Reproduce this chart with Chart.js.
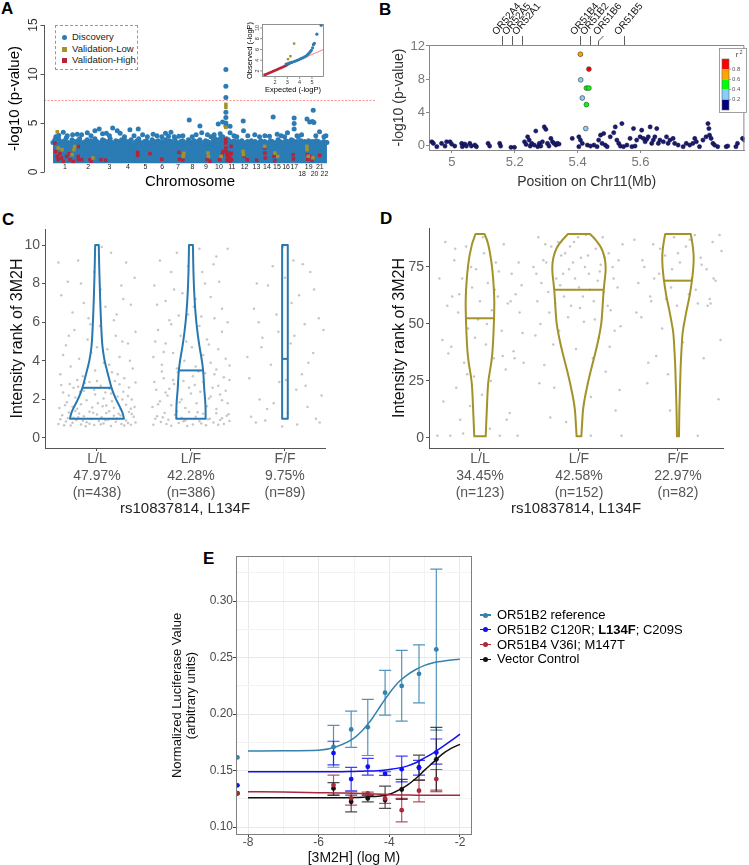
<!DOCTYPE html>
<html><head><meta charset="utf-8">
<script src="https://cdn.jsdelivr.net/npm/chart.js@4.4.1/dist/chart.umd.min.js"></script>
<style>
html,body{margin:0;padding:0;background:#fff}
body{position:relative;width:749px;height:865px;overflow:hidden;font-family:"Liberation Sans",Arial,Helvetica,sans-serif}
canvas{position:absolute}
.plab{position:absolute;font-weight:bold;font-size:17px;line-height:17px;color:#000}
#legA{position:absolute;left:55px;top:25px;width:83px;height:45px;border:1px dashed #999;box-sizing:border-box;font-size:9.5px;color:#222;background:#fff}
#legA div{position:absolute;left:16px;height:12px;line-height:12px;white-space:nowrap}
#legA span{position:absolute;left:-10px;top:3.5px;width:5px;height:5px}
#legE{position:absolute;left:480px;top:608px;font-size:13px;line-height:14.8px;color:#000;white-space:nowrap}
#legE .mk{display:inline-block;position:relative;width:11px;height:10px;margin-right:6px;vertical-align:-1px}
#legE .mk i{position:absolute;left:0;top:4.4px;width:11px;height:1.3px}
#legE .mk b{position:absolute;left:3px;top:2.5px;width:5px;height:5px;border-radius:50%}
</style></head>
<body>
<div class="plab" style="left:1px;top:0px">A</div>
<div class="plab" style="left:379px;top:1px">B</div>
<div class="plab" style="left:2px;top:211px">C</div>
<div class="plab" style="left:380px;top:210px">D</div>
<div class="plab" style="left:203px;top:550px">E</div>

<canvas id="cA" width="375" height="195" style="left:0;top:0"></canvas>
<canvas id="cQ" width="90" height="76" style="left:240px;top:18px"></canvas>
<div id="legA">
  <div style="top:5px"><span style="background:#2b7bb4;border-radius:50%"></span>Discovery</div>
  <div style="top:17px"><span style="background:#a39227"></span>Validation-Low</div>
  <div style="top:28px"><span style="background:#b5253a"></span>Validation-High</div>
</div>
<canvas id="cB" width="374" height="195" style="left:375px;top:0"></canvas>
<canvas id="cC" width="375" height="320" style="left:0;top:200px"></canvas>
<canvas id="cD" width="374" height="320" style="left:375px;top:200px"></canvas>
<canvas id="cE" width="589" height="325" style="left:160px;top:540px"></canvas>
<div id="legE">
  <div><span class="mk"><i style="background:#3482ae"></i><b style="background:#3482ae"></b></span>OR51B2 reference</div>
  <div><span class="mk"><i style="background:#1010f5"></i><b style="background:#1010f5"></b></span>OR51B2 C120R; <b>L134F</b>; C209S</div>
  <div><span class="mk"><i style="background:#a8283c"></i><b style="background:#a8283c"></b></span>OR51B4 V36I; M147T</div>
  <div><span class="mk"><i style="background:#111"></i><b style="background:#111"></b></span>Vector Control</div>
</div>

<script>
// ================= DATA =================
// ---- Panel A: Manhattan ----
const chrNames = ['1','2','3','4','5','6','7','8','9','10','11','12','13','14','15','16','17','18','19','20','21','22'];
const chrLen = [249,243,198,190,181,171,159,145,138,134,135,133,114,107,102,90,83,80,59,64,47,51];
const chrLowRow = ['18','20','22'];
const mhBandStep = 20;
const mhBandTop = [
3.0,3.3,2.9,3.4,3.1,2.8,3.2,3.5,3.0,2.9,3.3,3.1,
2.9,3.2,3.4,3.0,2.8,3.1,3.3,2.9,3.2,3.0,3.4,3.1,
2.8,3.0,3.3,3.2,2.9,3.1,3.4,3.0,2.8,3.2,3.1,2.9,
3.3,3.0,3.2,2.9,3.1,3.3,2.8,3.0,3.2,3.4,3.0,2.9,
3.1,3.2,2.9,3.0,3.3,3.1,2.8,3.2,3.0,3.1,2.9,3.3,
3.0,3.2,3.1,2.9,3.4,3.0,2.8,3.1,3.2,3.0,2.9,3.3,
3.1,3.0,3.2,2.9,3.1,3.3,3.0,2.8,3.2,3.1,3.0,2.9,
3.2,3.4,3.1,3.3,3.5,3.6,3.2,3.4,3.3,3.1,3.0,3.2,
2.9,3.1,3.0,3.2,2.8,3.0,3.1,2.9,3.2,3.0,3.1,2.9,
3.0,3.2,2.9,3.1,3.0,2.8,3.2,3.1,2.9,3.0,3.3,3.1,
3.0,2.9,3.2,3.1,3.0,3.3,3.2,3.0,3.1,2.9,3.2,3.0,
3.1,3.0,3.2,2.9,3.1,3.0,3.2,3.1,3.0,2.9,3.1,3.0,3.0];
const mhBandBase = 0.9;
// [chromosome, position (Mb), -log10 p]
const mhDiscovery = [[1,108,4.05],[1,206,3.8],[1,150,3.7],[1,30,3.6],[1,60,3.75],[2,6,3.85],[2,51,3.8],[2,111,4.0],[2,191,4.2],[2,236,4.4],[2,150,3.7],[3,28,3.9],[3,68,3.95],[3,134,4.5],[3,182,4.2],[3,100,3.7],[4,15,3.95],[4,117,4.3],[4,60,3.6],[4,160,3.7],[5,14,4.4],[5,60,3.8],[5,170,3.85],[5,110,3.6],[6,30,3.7],[6,119,3.95],[6,80,3.6],[6,150,3.65],[7,5,4.05],[7,88,3.65],[7,40,3.6],[7,130,3.7],[8,38,5.3],[8,69,3.6],[8,110,3.8],[9,5,4.7],[9,24,4.0],[9,84,3.8],[9,120,3.6],[10,16,3.8],[10,59,4.9],[10,105,5.1],[10,80,3.9],[11,5.3,10.45],[11,5.3,8.75],[11,5.3,7.6],[11,5.3,6.1],[11,5.3,5.55],[11,5.3,5.0],[11,5.3,4.7],[11,49,4.66],[11,49,4.0],[11,90,3.7],[11,120,3.6],[12,52,5.2],[12,55,4.2],[12,100,3.7],[13,40,3.8],[13,90,3.6],[14,32,3.7],[14,80,3.65],[15,12,5.6],[15,54,3.85],[15,95,3.7],[16,60,4.0],[16,30,3.6],[17,40,5.5],[17,40,4.95],[17,40,4.4],[17,70,3.7],[18,0,3.6],[18,35,3.8],[19,12,5.4],[19,40,5.1],[20,10,5.15],[20,18,6.3],[20,25,5.05],[20,45,3.7],[21,20,4.1],[22,20,3.6],[22,40,3.7]];
const mhValLow = [[1,45,4.1],[1,55,2.45],[1,95,2.28],[1,200,1.77],[1,220,2.28],[1,228,2.6],[2,170,1.43],[7,134,1.6],[7,140,1.9],[9,90,1.94],[9,95,1.6],[10,90,1.6],[11,5.3,6.9],[11,5.3,6.6],[11,5.3,4.55],[12,50,2.1],[12,55,1.77],[14,30,2.62],[15,30,1.94],[15,60,1.6],[19,10,2.62],[19,12,2.28],[19,25,1.6],[20,15,1.45]];
const mhValHigh = [[1,20,2.96],[1,25,2.1],[1,45,1.6],[1,55,1.26],[1,73,1.87],[1,90,1.43],[1,108,1.09],[1,143,1.6],[1,170,1.87],[1,178,1.26],[1,213,1.09],[2,16,2.6],[2,16,1.6],[2,18,1.26],[2,50,1.26],[2,140,1.26],[2,150,1.1],[3,10,1.26],[3,60,1.2],[5,8,2.0],[5,8,1.7],[5,137,1.87],[6,80,1.3],[7,89,2.0],[7,95,1.3],[7,130,1.2],[9,80,1.26],[9,110,1.1],[10,75,1.26],[10,100,1.77],[10,110,2.1],[11,3,3.3],[11,4,2.96],[11,5,2.45],[11,8,2.1],[11,15,1.77],[11,25,1.43],[11,35,1.94],[11,45,1.6],[11,60,2.62],[11,62,1.9],[11,63,1.26],[11,20,1.2],[11,50,1.1],[12,60,1.6],[12,95,1.26],[13,60,1.2],[14,30,2.45],[14,32,1.94],[14,35,1.43],[15,20,1.6],[15,28,1.15],[17,30,1.77],[17,32,1.33],[19,15,1.77],[19,20,1.3],[19,40,1.6],[20,5,1.2],[21,20,1.7]];
const gwSignif = 7.3;
const mhYTicks = [0,5,10,15];
// QQ inset [expected, observed]
const qqHigh = [[1.15,1.3],[1.25,1.35],[1.35,1.45],[1.45,1.55],[1.55,1.65],[1.65,1.75],[1.75,1.85],[1.85,1.95],[1.95,2.05],[2.05,2.15],[2.15,2.25],[2.25,2.35],[2.35,2.45],[2.45,2.55],[2.55,2.65],[2.65,2.75],[2.75,2.85],[2.85,2.95],[2.95,3.1],[3.05,3.25],[3.15,3.4]];
const qqDisc = [[2.9,3.3],[3.05,3.38],[3.2,3.5],[3.35,3.6],[3.5,3.72],[3.65,3.85],[3.8,3.98],[3.95,4.12],[4.1,4.28],[4.25,4.45],[4.4,4.62],[4.55,4.82],[4.65,5.05],[4.75,5.3],[4.85,5.55],[4.95,5.85],[5.05,6.3],[5.12,6.9],[5.2,7.15],[5.4,8.85],[5.75,10.5]];
const qqLow = [[3.05,4.2],[3.25,4.75],[3.55,7.1]];
const qqNull = [[1.1,1.2],[5.95,6.0]];
const qqXTicks = [2,3,4,5];
const qqYTicks = [2,4,6,8,10];

// ---- Panel B: regional plot ----
const bNavy = [[4.936,0.4],[4.941,0.2],[4.952,-0.2],[4.967,0.2],[4.978,-0.12],[4.983,0.4],[4.994,0.4],[4.999,0.12],[5.009,-0.12],[5.031,0.2],[5.033,-0.2],[5.041,0.12],[5.046,-0.12],[5.057,0.2],[5.062,-0.12],[5.073,0],[5.078,-0.2],[5.115,0.2],[5.12,-0.12],[5.152,0.2],[5.155,-0.12],[5.188,-0.28],[5.199,-0.28],[5.231,0.4],[5.236,0.08],[5.241,1.0],[5.246,0.6],[5.249,-0.12],[5.254,0.2],[5.262,0],[5.267,1.7],[5.273,-0.2],[5.278,0.2],[5.283,-0.12],[5.288,0.4],[5.294,2.2],[5.299,1.9],[5.304,0.2],[5.309,-0.12],[5.315,0.8],[5.32,0.4],[5.325,0.2],[5.331,0],[5.336,0.2],[5.341,0.12],[5.383,0.8],[5.404,1.0],[5.409,0.6],[5.404,-0.2],[5.415,0.2],[5.431,0],[5.441,-0.12],[5.452,0],[5.462,-0.2],[5.467,0.6],[5.473,1.2],[5.478,0.2],[5.483,1.4],[5.488,0],[5.494,-0.2],[5.504,1.0],[5.515,1.5],[5.52,2.2],[5.525,0.6],[5.531,0.2],[5.536,-0.12],[5.541,2.6],[5.546,-0.2],[5.557,0],[5.567,0.8],[5.573,-0.2],[5.578,2.0],[5.583,-0.12],[5.588,0.6],[5.599,1.0],[5.604,1.8],[5.609,0.8],[5.615,0.4],[5.62,0.7],[5.625,1.0],[5.631,2.2],[5.636,0.2],[5.641,0.6],[5.646,1.0],[5.652,2.0],[5.657,0.2],[5.662,0.6],[5.673,0.4],[5.683,1.0],[5.688,0.2],[5.694,0.6],[5.704,0.8],[5.709,0.2],[5.72,0],[5.736,-0.2],[5.746,0.2],[5.757,0],[5.767,0.2],[5.773,0.8],[5.778,0.4],[5.788,-0.2],[5.799,0.6],[5.809,1.0],[5.815,2.6],[5.818,2.0],[5.82,1.2],[5.825,0.8],[5.831,0.2],[5.836,0],[5.846,-0.2],[5.873,-0.2],[5.878,-0.12],[5.904,-0.2],[5.909,0.2],[5.925,0.8],[5.931,0.6]];
const bLD = [[5.409,11.0],[5.436,9.2],[5.41,7.9],[5.428,6.9],[5.436,6.9],[5.415,5.7],[5.428,4.9],[5.426,2.0]];
const bLDr2 = [0.7,0.9,0.3,0.5,0.5,0.3,0.5,0.3];
const r2Colors = ['#00007f','#87cefa','#00ff00','#ffa500','#ff0000'];
const r2Ticks = ['0.2','0.4','0.6','0.8'];
const geneNames = ['OR52A4','OR52A5','OR52A1','OR51B4','OR51B2','OR51B6','OR51B5'];
const genePos = [5.16,5.19,5.223,5.409,5.439,5.464,5.548];
const bXTicks = [5,5.2,5.4,5.6];
const bYTicks = [0,2,4,6,8,10,12];

// ---- Panels C & D: violins ----
const genotypes = ['L/L','L/F','F/F'];
const cPct = ['47.97%','42.28%','9.75%'];
const cN = ['(n=438)','(n=386)','(n=89)'];
const dPct = ['34.45%','42.58%','22.97%'];
const dN = ['(n=123)','(n=152)','(n=82)'];
const cYTicks = [0,2,4,6,8,10];
const dYTicks = [0,25,50,75];
const cMedian = [2.6,3.5,4.1];
const dMedian = [52.5,65,69];
// violin half-widths [value, half-width in category units]
const cViolinLL = [[1,.287],[1.25,.277],[1.5,.255],[1.75,.229],[2,.202],[2.3,.176],[2.6,.154],[3,.133],[3.5,.106],[4,.080],[4.5,.064],[5,.053],[6,.043],[7,.035],[8,.029],[9,.023],[10,.019]];
const cViolinLF = [[1,.156],[1.5,.156],[2,.151],[2.5,.141],[3,.136],[3.5,.130],[4,.117],[4.5,.099],[5,.082],[6,.056],[7,.040],[8,.030],[9,.024],[10,.021]];
const cViolinFF = [[1,.030],[5,.030],[10,.030]];
const dViolinLL = [[0.7,.058],[6.6,.063],[13.9,.071],[24.9,.081],[32.9,.116],[40.2,.131],[52.5,.143],[62.1,.146],[75.3,.124],[85.5,.084],[89.5,.045]];
const dViolinLF = [[0.7,.024],[6.6,.032],[13.9,.042],[24.9,.093],[32.9,.139],[40.2,.182],[47.5,.217],[52.5,.232],[65.6,.249],[75.3,.278],[82.6,.240],[87,.169],[89.5,.111]];
const dViolinFF = [[0.7,.010],[6.6,.012],[13.9,.015],[24.9,.023],[32.9,.028],[40.2,.038],[46,.045],[50.4,.063],[56.3,.088],[62.1,.118],[69.4,.143],[75.3,.157],[80.4,.160],[85.5,.146],[89.5,.129]];
// jittered individual observations [offset from category, value]
const cPtsLL = [[-0.41,0.72],[-0.37,1.18],[-0.33,0.85],[-0.30,1.32],[-0.28,0.64],[-0.25,1.05],[-0.22,0.93],[-0.19,1.27],[-0.17,0.70],[-0.14,1.12],[-0.11,0.81],[-0.08,1.36],[-0.06,0.98],[-0.03,0.67],[0.00,1.22],[0.02,0.88],[0.05,1.08],[0.07,0.75],[0.10,1.30],[0.12,0.95],[0.15,0.62],[0.18,1.15],[0.20,0.84],[0.23,1.25],[0.26,0.73],[0.28,1.02],[0.31,0.90],[0.34,1.34],[0.36,0.68],[0.39,1.10],[0.41,0.80],[-0.39,0.97],[-0.35,0.66],[-0.26,0.79],[-0.20,1.08],[-0.12,0.61],[-0.04,1.31],[0.04,0.71],[0.13,1.38],[0.21,1.01],[0.29,0.65],[0.37,1.24],[-0.31,1.02],[-0.15,0.89],[0.09,0.92],[0.25,1.16],[0.33,0.77],[-0.08,0.74],[0.17,0.99],[-0.23,1.40],
[-0.40,1.55],[-0.36,2.35],[-0.32,1.85],[-0.29,2.80],[-0.26,1.62],[-0.23,2.10],[-0.20,2.65],[-0.17,1.75],[-0.14,2.45],[-0.11,1.95],[-0.08,2.90],[-0.05,1.58],[-0.02,2.25],[0.01,1.80],[0.04,2.70],[0.07,2.05],[0.10,1.68],[0.13,2.55],[0.16,1.90],[0.19,2.95],[0.22,2.15],[0.25,1.50],[0.28,2.40],[0.31,1.72],[0.34,2.62],[0.37,2.00],[0.40,1.60],[-0.38,2.75],[-0.30,2.20],[-0.21,1.52],[-0.13,2.85],[-0.03,2.50],[0.06,1.65],[0.15,2.30],[0.24,2.78],[0.33,2.18],[0.41,2.88],[-0.34,1.70],[-0.18,2.40],[0.00,2.95],[0.18,1.56],[0.27,2.00],[-0.25,2.60],[0.09,2.35],[0.36,1.52],
[-0.39,3.3],[-0.33,4.8],[-0.28,3.7],[-0.24,5.6],[-0.19,4.1],[-0.15,3.2],[-0.10,5.1],[-0.06,4.4],[-0.02,3.5],[0.03,5.8],[0.07,3.9],[0.11,4.6],[0.16,3.4],[0.20,5.3],[0.24,4.2],[0.29,3.1],[0.33,4.9],[0.38,3.6],[0.41,5.5],[-0.36,4.3],[-0.21,3.0],[-0.07,5.9],[0.13,3.8],[0.27,5.0],[0.35,4.0],[-0.30,5.3],[0.00,4.7],[0.22,3.3],
[-0.38,7.4],[-0.31,8.1],[-0.26,6.5],[-0.20,9.2],[-0.14,7.0],[-0.09,6.2],[-0.03,8.6],[0.04,7.7],[0.09,6.8],[0.15,9.6],[0.21,6.4],[0.26,7.9],[0.31,9.1],[0.36,6.9],[0.40,8.3],[-0.41,9.1],[0.28,7.2],[0.18,6.1],[-0.17,8.0],[0.05,9.9]];
const cPtsLF = [[-0.40,0.68],[-0.36,1.12],[-0.32,0.83],[-0.28,1.30],[-0.24,0.95],[-0.21,0.63],[-0.17,1.20],[-0.13,0.77],[-0.10,1.05],[-0.06,0.90],[-0.02,1.35],[0.02,0.70],[0.05,1.10],[0.09,0.86],[0.13,1.25],[0.16,0.66],[0.20,1.00],[0.24,0.80],[0.27,1.28],[0.31,0.93],[0.35,0.72],[0.38,1.15],[0.41,0.88],[-0.38,0.99],[-0.26,0.73],[-0.15,1.38],[-0.04,0.62],[0.07,1.33],[0.18,0.97],[0.29,0.69],[0.40,1.23],[-0.30,1.08],[0.11,0.75],[0.33,1.02],[-0.08,0.87],
[-0.41,1.6],[-0.37,2.5],[-0.33,1.9],[-0.29,3.1],[-0.25,2.2],[-0.21,1.7],[-0.18,2.8],[-0.14,3.4],[-0.10,2.0],[-0.06,1.55],[-0.02,2.6],[0.02,3.2],[0.06,1.8],[0.10,2.4],[0.13,2.9],[0.17,1.65],[0.21,2.15],[0.25,3.3],[0.29,2.7],[0.33,1.95],[0.37,2.45],[0.41,3.0],[-0.39,2.9],[-0.31,3.45],[-0.23,2.55],[-0.12,1.85],[0.00,2.3],[0.08,3.45],[0.19,2.05],[0.27,1.5],[0.35,3.15],[-0.35,1.75],[-0.19,3.0],[0.04,2.75],[0.15,3.35],[0.31,2.25],[-0.08,2.95],[0.23,2.6],[0.39,1.8],[-0.27,2.35],
[-0.40,4.2],[-0.35,5.6],[-0.31,3.8],[-0.27,4.9],[-0.23,6.1],[-0.19,4.4],[-0.15,3.6],[-0.11,5.3],[-0.07,4.0],[-0.03,6.4],[0.01,4.7],[0.05,3.7],[0.09,5.8],[0.13,4.3],[0.17,5.1],[0.21,3.9],[0.25,6.2],[0.29,4.6],[0.33,5.5],[0.37,4.1],[0.41,3.75],[-0.38,5.0],[-0.21,5.9],[-0.05,5.0],[0.11,6.3],[0.27,3.55],[0.39,6.0],[-0.29,4.45],[0.19,4.85],[-0.13,6.35],
[-0.39,7.9],[-0.33,9.2],[-0.27,7.1],[-0.21,8.6],[-0.15,9.6],[-0.09,7.5],[-0.03,8.9],[0.03,6.8],[0.09,9.8],[0.15,8.0],[0.21,7.3],[0.27,9.4],[0.33,6.7],[0.39,9.8],[-0.36,6.9],[0.12,8.6],[0.30,8.1],[-0.18,7.7],[0.05,7.2],[0.24,9.0]];
const cPtsFF = [[-0.40,4.2],[-0.36,1.1],[-0.33,6.7],[-0.30,8.0],[-0.27,2.0],[-0.24,5.2],[-0.21,0.9],[-0.18,7.9],[-0.15,3.8],[-0.12,1.8],[-0.09,6.4],[-0.06,2.9],[-0.03,0.6],[0.00,8.3],[0.03,1.3],[0.06,4.9],[0.09,9.2],[0.12,2.5],[0.15,7.4],[0.18,3.3],[0.21,5.9],[0.24,1.6],[0.27,8.6],[0.30,4.4],[0.33,1.0],[0.36,6.2],[0.39,2.2],[0.41,5.6],[-0.38,3.1],[-0.31,0.8],[-0.25,4.7],[-0.19,1.5],[-0.13,8.9],[-0.07,5.5],[0.01,3.0],[0.07,7.0],[0.13,0.7],[0.19,9.0],[0.25,3.9],[0.31,7.7],[0.37,0.8],[-0.02,9.9],[0.10,5.3],[-0.28,6.0],[0.22,2.7]];
const dPtsLL = [[-0.43,1],[-0.38,43],[-0.35,86],[-0.32,37],[-0.30,1],[-0.28,62],[-0.26,78],[-0.24,22],[-0.22,55],[-0.20,8],[-0.18,70],[-0.16,33],[-0.14,84],[-0.12,48],[-0.10,14],[-0.08,66],[-0.06,27],[-0.04,74],[-0.02,52],[0.00,60],[0.02,19],[0.04,81],[0.06,41],[0.08,68],[0.10,4],[0.12,56],[0.14,35],[0.16,77],[0.18,62],[0.20,1],[0.22,47],[0.24,85],[0.26,30],[0.28,59],[0.30,11],[0.32,72],[0.34,38],[0.36,63],[0.38,1],[0.40,55],[0.42,67],[0.44,33],[-0.41,70],[-0.37,16],[-0.33,58],[-0.29,40],[-0.25,83],[-0.21,63],[-0.17,2],[-0.13,28],[-0.09,75],[-0.05,44],[0.03,88],[0.07,50],[0.11,25],[0.15,65],[0.19,73],[0.23,36],[0.27,8],[0.31,60],[0.35,35],[0.39,77],[0.43,46]];
const dPtsLF = [[-0.44,45],[-0.41,88],[-0.38,68],[-0.35,32],[-0.33,77],[-0.30,55],[-0.28,84],[-0.25,22],[-0.23,70],[-0.20,47],[-0.18,80],[-0.15,62],[-0.13,7],[-0.10,74],[-0.08,58],[-0.05,86],[-0.03,39],[0.00,66],[0.02,79],[0.05,51],[0.07,89],[0.10,72],[0.12,18],[0.15,60],[0.17,83],[0.20,44],[0.22,76],[0.25,64],[0.27,29],[0.30,81],[0.32,56],[0.35,70],[0.37,12],[0.40,78],[0.42,49],[0.44,85],[-0.42,60],[-0.39,50],[-0.36,78],[-0.31,64],[-0.26,41],[-0.21,86],[-0.16,72],[-0.11,53],[-0.06,77],[-0.01,88],[0.04,62],[0.09,80],[0.14,35],[0.19,69],[0.24,88],[0.29,58],[0.34,75],[0.39,66],[0.43,1],[-0.43,72],[-0.34,85],[-0.24,59],[-0.14,81],[-0.04,70],[0.06,75],[0.16,52],[0.26,79],[0.36,47],[-0.40,24],[-0.29,9],[0.12,1],[-0.19,67],[0.01,57],[0.21,73],[0.31,40],[-0.09,84],[0.11,65],[0.41,21],[-0.46,75]];
const dPtsFF = [[-0.44,87],[-0.40,68],[-0.37,53],[-0.34,75],[-0.31,24],[-0.28,62],[-0.25,85],[-0.22,36],[-0.19,72],[-0.16,48],[-0.13,80],[-0.10,28],[-0.07,66],[-0.04,88],[-0.01,58],[0.02,77],[0.05,42],[0.08,84],[0.11,63],[0.14,70],[0.17,89],[0.20,59],[0.23,79],[0.26,35],[0.29,74],[0.32,61],[0.35,86],[0.38,69],[0.41,17],[0.44,82],[-0.42,55],[-0.36,78],[-0.30,33],[-0.24,70],[-0.18,83],[-0.12,61],[-0.06,74],[0.00,81],[0.06,50],[0.12,87],[0.18,65],[0.24,76],[0.30,58],[0.36,70],[0.42,89],[0.43,43],[0.20,1],[-0.08,12],[0.33,59],[-0.27,60]];

// ---- Panel E: dose response ----
const eSeriesNames = ['OR51B2 reference','OR51B2 C120R; L134F; C209S','OR51B4 V36I; M147T','Vector Control'];
const eDoseLogM = [-8.3,-5.58,-5.08,-4.61,-4.12,-3.65,-3.16,-2.67];
const eRefMean = [0.1617,0.171,0.1865,0.1885,0.219,0.225,0.2357,0.2573];
const eRefLo   = [null,0.153,0.1705,0.1634,0.1991,0.1938,0.21,0.1858];
const eRefHi   = [null,0.190,0.2027,0.213,0.2387,0.2564,0.2614,0.3283];
const eMutMean = [0.137,0.1655,0.1425,0.1534,0.1472,0.1513,0.1525,0.166];
const eMutLo   = [null,0.155,0.132,0.146,0.1457,0.140,0.146,0.1557];
const eMutHi   = [null,0.176,0.1528,0.1608,0.149,0.1628,0.159,0.178];
const eB4Mean  = [0.130,0.1372,0.1255,0.1298,0.1254,0.115,0.1322,0.1425];
const eB4Lo    = [null,0.128,0.1195,0.1285,0.121,0.1047,0.1224,0.1327];
const eB4Hi    = [null,0.146,0.1313,0.131,0.129,0.1254,0.1416,0.151];
const eVecMean = [0.1298,0.1342,0.1224,0.1254,0.1239,0.1333,0.1528,0.160];
const eVecLo   = [null,0.1283,0.1135,0.1224,0.1165,0.1245,0.1416,0.1313];
const eVecHi   = [null,0.1393,0.1283,0.1283,0.1363,0.1422,0.1637,0.1882];
const eCurveX   = [-8,-7,-6,-5.5,-5,-4.75,-4.5,-4.25,-4,-3.75,-3.5,-3.25,-3,-2.75,-2.5,-2.25,-2];
const eRefCurve = [0.1673,0.1675,0.168,0.1712,0.1788,0.186,0.1955,0.2072,0.2185,0.228,0.2345,0.2395,0.2432,0.2455,0.2468,0.2479,0.2487];
const eMutCurve = [0.149,0.149,0.149,0.149,0.1493,0.1495,0.1497,0.150,0.151,0.1522,0.154,0.157,0.1613,0.1658,0.171,0.1765,0.1823];
const eB4Curve  = [0.1313,0.131,0.1305,0.1302,0.130,0.1297,0.1294,0.129,0.1287,0.1285,0.1284,0.1283,0.1283,0.1283,0.1283,0.1283,0.1283];
const eVecCurve = [0.1259,0.1259,0.1259,0.126,0.1262,0.1265,0.127,0.1275,0.129,0.1325,0.137,0.143,0.1504,0.1575,0.1646,0.1697,0.1732];
const eXTicks = [-8,-7,-6,-5,-4,-3,-2];
const eYTicks = [0.1,0.125,0.15,0.175,0.2,0.225,0.25,0.275,0.3,0.325];

// ================= SETUP =================
const FONT = '"Liberation Sans", Arial, Helvetica, sans-serif';
Chart.defaults.animation = false;
Chart.defaults.responsive = false;
Chart.defaults.font.family = FONT;
Chart.defaults.plugins.legend.display = false;
Chart.defaults.plugins.tooltip.enabled = false;
Chart.defaults.elements.point.borderWidth = 0;

function txt(ctx, s, x, y, o) {
  o = o || {};
  ctx.save();
  ctx.font = (o.bold ? 'bold ' : '') + (o.size || 12) + 'px ' + FONT;
  ctx.fillStyle = o.color || '#000';
  ctx.textAlign = o.align || 'center';
  ctx.textBaseline = o.base || 'middle';
  ctx.translate(x, y);
  if (o.rot) ctx.rotate(o.rot);
  ctx.fillText(s, 0, 0);
  ctx.restore();
}
const fixTicks = arr => (s => { s.ticks = arr.map(v => ({value: v})); });

// ================= PANEL A =================
const chrStart = []; let genomeLen = 0;
chrLen.forEach(l => { chrStart.push(genomeLen); genomeLen += l; });
const gpos = r => ({x: chrStart[r[0]-1] + r[1], y: r[2]});
const bandPts = mhBandTop.map((v, i) => ({x: Math.min(i*mhBandStep, genomeLen), y: v}));
const BLUE_A = '#2b7bb4', OLIVE = '#a39227', RED_A = '#b5253a';

const axesA = {id: 'axesA', afterDraw(ch) {
  const {ctx, chartArea: ca, scales: {x, y}} = ch;
  ctx.save();
  ctx.strokeStyle = '#555'; ctx.lineWidth = 1;
  const ax = ca.left + 0.5, y0 = y.getPixelForValue(0), yT = y.getPixelForValue(15);
  ctx.beginPath(); ctx.moveTo(ax, y0); ctx.lineTo(ax, yT);
  mhYTicks.forEach(v => { const py = Math.round(y.getPixelForValue(v)) + 0.5; ctx.moveTo(ax, py); ctx.lineTo(ax - 4, py); });
  ctx.stroke();
  mhYTicks.forEach(v => txt(ctx, String(v), ax - 11, y.getPixelForValue(v), {size: 12, color: '#333', rot: -Math.PI/2}));
  txt(ctx, '-log10 (p-value)', 15, (y0 + yT)/2, {size: 15, rot: -Math.PI/2});
  chrNames.forEach((n, i) => {
    const cx = x.getPixelForValue(chrStart[i] + chrLen[i]/2);
    txt(ctx, n, cx, chrLowRow.includes(n) ? 174 : 167, {size: 7, color: '#222'});
  });
  txt(ctx, 'Chromosome', (x.getPixelForValue(0) + x.getPixelForValue(genomeLen))/2, 182, {size: 15});
  ctx.restore();
}};

new Chart(document.getElementById('cA'), {
  type: 'scatter',
  data: {datasets: [
    {type: 'line', data: [{x: -94, y: gwSignif}, {x: 3400, y: gwSignif}], borderColor: 'rgba(255,90,90,0.85)', borderWidth: 0.8, borderDash: [2, 1.5], pointRadius: 0, clip: false, order: 0},
    {data: mhValLow.map(gpos), pointStyle: 'rect', backgroundColor: OLIVE, pointRadius: 2.5, order: 1},
    {data: mhValHigh.map(gpos), pointStyle: 'rect', backgroundColor: RED_A, pointRadius: 2.5, order: 2},
    {data: mhDiscovery.map(gpos), backgroundColor: BLUE_A, pointRadius: 2.5, order: 3},
    {data: bandPts, backgroundColor: BLUE_A, pointRadius: 2.5, order: 4},
    {type: 'line', data: bandPts, fill: {value: mhBandBase}, backgroundColor: BLUE_A, borderColor: 'rgba(0,0,0,0)', borderWidth: 0, pointRadius: 0, order: 5}
  ]},
  options: {
    layout: {padding: {left: 44, right: 45, top: 25, bottom: 23}},
    scales: {
      x: {type: 'linear', min: -94, max: 2905, display: false},
      y: {type: 'linear', min: 0, max: 15, display: false}
    }
  },
  plugins: [axesA]
});

// QQ inset
const axesQ = {id: 'axesQ', afterDraw(ch) {
  const {ctx, chartArea: ca, scales: {x, y}} = ch;
  ctx.save();
  ctx.strokeStyle = '#777'; ctx.lineWidth = 0.8;
  ctx.strokeRect(ca.left + 0.5, ca.top + 0.5, ca.width - 1, ca.height - 1);
  ctx.beginPath();
  qqXTicks.forEach(v => { const px = x.getPixelForValue(v); ctx.moveTo(px, ca.bottom); ctx.lineTo(px, ca.bottom + 2); });
  qqYTicks.forEach(v => { const py = y.getPixelForValue(v); ctx.moveTo(ca.left, py); ctx.lineTo(ca.left - 2, py); });
  ctx.stroke();
  qqXTicks.forEach(v => txt(ctx, String(v), x.getPixelForValue(v), ca.bottom + 5.5, {size: 5.5, color: '#333'}));
  qqYTicks.forEach(v => txt(ctx, String(v), ca.left - 5, y.getPixelForValue(v), {size: 5.5, color: '#333', rot: -Math.PI/2}));
  txt(ctx, 'Expected (-logP)', (ca.left + ca.right)/2, ca.bottom + 12.5, {size: 7.5});
  txt(ctx, 'Observed (-logP)', ca.left - 12, (ca.top + ca.bottom)/2, {size: 7.5, rot: -Math.PI/2});
  ctx.restore();
}};
const xy = r => ({x: r[0], y: r[1]});
new Chart(document.getElementById('cQ'), {
  type: 'scatter',
  data: {datasets: [
    {data: qqLow.map(xy), pointStyle: 'rect', backgroundColor: OLIVE, pointRadius: 1.7, order: 0},
    {data: qqDisc.map(xy), backgroundColor: BLUE_A, pointRadius: 1.6, order: 1},
    {data: qqHigh.map(xy), pointStyle: 'rect', backgroundColor: RED_A, pointRadius: 1.7, order: 2},
    {type: 'line', data: qqNull.map(xy), borderColor: '#ff6060', borderWidth: 0.8, pointRadius: 0, order: 3}
  ]},
  options: {
    layout: {padding: {left: 22, right: 6, top: 6, bottom: 17}},
    scales: {x: {type: 'linear', min: 0.94, max: 5.98, display: false}, y: {type: 'linear', min: 0.88, max: 10.74, display: false}}
  },
  plugins: [axesQ]
});

// ================= PANEL B =================
const r2col = r => r2Colors[Math.min(4, Math.floor(r / 0.2))];
const boxB = {id: 'boxB', afterDraw(ch) {
  const {ctx, chartArea: ca, scales: {x}} = ch;
  ctx.save();
  ctx.strokeStyle = '#888'; ctx.lineWidth = 1;
  ctx.beginPath();
  ctx.moveTo(ca.left, ca.top + 0.5); ctx.lineTo(ca.right - 0.5, ca.top + 0.5); ctx.lineTo(ca.right - 0.5, ca.bottom);
  ctx.stroke();
  // genes
  ctx.strokeStyle = '#333'; ctx.lineWidth = 0.8;
  geneNames.forEach((g, i) => {
    const px = Math.round(x.getPixelForValue(genePos[i])) + 0.5;
    const bent = g === 'OR51B6';
    ctx.beginPath(); ctx.moveTo(px, ca.top); ctx.lineTo(px, ca.top - (bent ? 4 : 9));
    if (bent) ctx.lineTo(px + 5, ca.top - 9);
    ctx.stroke();
    const lx = px + (bent ? 5 : 0);
    txt(ctx, g, lx - 6, ca.top - 9.5, {size: 10, color: '#111', align: 'left', base: 'alphabetic', rot: -50*Math.PI/180});
  });
  // r2 legend
  const bx = 344, by = 48, bw = 28, bh = 65;
  ctx.fillStyle = '#fff'; ctx.fillRect(bx, by, bw, bh);
  ctx.strokeStyle = '#888'; ctx.strokeRect(bx + 0.5, by + 0.5, bw - 1, bh - 1);
  txt(ctx, 'r', 362, 55, {size: 8, color: '#444'});
  txt(ctx, '2', 366, 52, {size: 5.5, color: '#444'});
  for (let k = 0; k < 5; k++) {
    ctx.fillStyle = r2Colors[4 - k];
    ctx.fillRect(347, 59 + k*10.2, 7, 10.2);
  }
  ctx.strokeStyle = '#666'; ctx.lineWidth = 0.6; ctx.strokeRect(347, 59, 7, 51);
  ctx.beginPath();
  r2Ticks.forEach((t, k) => { const py = 59 + (4 - k)*10.2; ctx.moveTo(354, py); ctx.lineTo(356, py); });
  ctx.stroke();
  r2Ticks.forEach((t, k) => txt(ctx, t, 357, 59 + (4 - k)*10.2, {size: 6, color: '#555', align: 'left'}));
  ctx.restore();
}};
new Chart(document.getElementById('cB'), {
  type: 'scatter',
  data: {datasets: [
    {data: bLD.map(xy), backgroundColor: bLDr2.map(r2col), borderColor: '#333', borderWidth: 0.6, pointRadius: 2.4, order: 0},
    {data: bNavy.map(xy), backgroundColor: '#1b1b70', borderColor: '#0a0a40', borderWidth: 0.5, pointRadius: 2.1, order: 1}
  ]},
  options: {
    layout: {padding: {left: 0, right: 2, top: 45, bottom: 0}},
    scales: {
      x: {type: 'linear', min: 4.927, max: 5.931, afterBuildTicks: fixTicks(bXTicks), afterFit: s => { s.height = 45; },
          ticks: {color: '#777', font: {size: 13}, padding: 2, callback: v => String(v)},
          grid: {display: true, drawOnChartArea: false, tickLength: 3, color: '#888'}, border: {color: '#888'},
          title: {display: true, text: 'Position on Chr11(Mb)', color: '#333', font: {size: 14}, padding: {top: 0, bottom: 4}}},
      y: {type: 'linear', min: -0.6, max: 12.12, afterBuildTicks: fixTicks(bYTicks), afterFit: s => { s.width = 54; },
          ticks: {color: '#777', font: {size: 13}, padding: 1, callback: v => String(v)},
          grid: {display: true, drawOnChartArea: false, tickLength: 3, color: '#888'}, border: {color: '#888'},
          title: {display: true, text: '-log10 (p-value)', color: '#333', font: {size: 14}, padding: {top: 16, bottom: 0}}}
    }
  },
  plugins: [boxB]
});

// ================= PANELS C & D =================
function interpW(prof, v) {
  for (let i = 0; i < prof.length - 1; i++) {
    if (v >= prof[i][0] && v <= prof[i+1][0]) {
      const t = (v - prof[i][0]) / (prof[i+1][0] - prof[i][0]);
      return prof[i][1] + t*(prof[i+1][1] - prof[i][1]);
    }
  }
  return prof[prof.length - 1][1];
}
function smoothTo(ctx, pts, move) {
  if (move) ctx.moveTo(pts[0][0], pts[0][1]); else ctx.lineTo(pts[0][0], pts[0][1]);
  for (let i = 1; i < pts.length - 1; i++) {
    const mx = (pts[i][0] + pts[i+1][0])/2, my = (pts[i][1] + pts[i+1][1])/2;
    ctx.quadraticCurveTo(pts[i][0], pts[i][1], mx, my);
  }
  const n = pts.length - 1; ctx.lineTo(pts[n][0], pts[n][1]);
}
function violinPlugin(profiles, medians, color) {
  return {id: 'violins', afterDatasetsDraw(ch) {
    const {ctx, scales: {x, y}} = ch;
    ctx.save();
    ctx.strokeStyle = color; ctx.lineWidth = 2; ctx.lineJoin = 'round'; ctx.lineCap = 'butt';
    profiles.forEach((prof, g) => {
      const c = g + 1;
      const R = prof.map(p => [x.getPixelForValue(c + p[1]), y.getPixelForValue(p[0])]);
      const L = prof.map(p => [x.getPixelForValue(c - p[1]), y.getPixelForValue(p[0])]).reverse();
      ctx.beginPath(); smoothTo(ctx, R, true); smoothTo(ctx, L, false); ctx.closePath(); ctx.stroke();
      const hw = interpW(prof, medians[g]), py = y.getPixelForValue(medians[g]);
      ctx.beginPath(); ctx.moveTo(x.getPixelForValue(c - hw), py); ctx.lineTo(x.getPixelForValue(c + hw), py); ctx.stroke();
    });
    ctx.restore();
  }};
}
function violinChart(id, o) {
  const ptSets = o.points.map((arr, g) => ({data: arr.map(p => ({x: g + 1 + p[0], y: p[1]})), backgroundColor: '#c6c6c6', pointRadius: 1.25}));
  return new Chart(document.getElementById(id), {
    type: 'scatter',
    data: {datasets: ptSets},
    options: {
      layout: {padding: {left: 0, right: o.padRight, top: o.padTop, bottom: 0}},
      scales: {
        x: {type: 'linear', min: o.xMin, max: o.xMax, afterBuildTicks: fixTicks([1, 2, 3]), afterFit: s => { s.height = 72; },
            ticks: {color: '#555', font: {size: 14, lineHeight: 1.2}, padding: 0, maxRotation: 0, callback: v => [genotypes[v-1], o.pct[v-1], o.n[v-1]]},
            grid: {display: true, drawOnChartArea: false, tickLength: 3, color: '#555'}, border: {color: '#555'},
            title: {display: true, text: 'rs10837814, L134F', color: '#222', font: {size: 15}, padding: {top: 0, bottom: 2}}},
        y: {type: 'linear', min: o.yMin, max: o.yMax, afterBuildTicks: fixTicks(o.yTicks), afterFit: s => { s.width = o.yWidth; },
            ticks: {color: '#555', font: {size: 14}, padding: 2, callback: v => String(v)},
            grid: {display: true, drawOnChartArea: false, tickLength: 3, color: '#555'}, border: {color: '#555'},
            title: {display: true, text: 'Intensity rank of 3M2H', color: '#111', font: {size: 16}, padding: {top: o.titlePad, bottom: 0}}}
      }
    },
    plugins: [violinPlugin(o.profiles, o.medians, o.color)]
  });
}
violinChart('cC', {points: [cPtsLL, cPtsLF, cPtsFF], profiles: [cViolinLL, cViolinLF, cViolinFF], medians: cMedian,
  color: '#2a78b0', pct: cPct, n: cN, yTicks: cYTicks, yMin: -0.52, yMax: 10.83, xMin: 0.447, xMax: 3.426,
  padRight: 50, padTop: 29, yWidth: 45, titlePad: 8});
violinChart('cD', {points: [dPtsLL, dPtsLF, dPtsFF], profiles: [dViolinLL, dViolinLF, dViolinFF], medians: dMedian,
  color: '#a39227', pct: dPct, n: dN, yTicks: dYTicks, yMin: -4.4, yMax: 92.1, xMin: 0.485, xMax: 3.455,
  padRight: 26, padTop: 28, yWidth: 54, titlePad: 15});

// ================= PANEL E =================
const eSeries = [
  {color: '#3482ae', err: 'rgba(52,130,174,0.85)', mean: eRefMean, lo: eRefLo, hi: eRefHi, curve: eRefCurve},
  {color: '#1010f5', err: 'rgba(16,16,245,0.8)', mean: eMutMean, lo: eMutLo, hi: eMutHi, curve: eMutCurve},
  {color: '#a8283c', err: 'rgba(168,40,60,0.8)', mean: eB4Mean, lo: eB4Lo, hi: eB4Hi, curve: eB4Curve},
  {color: '#111111', err: 'rgba(17,17,17,0.75)', mean: eVecMean, lo: eVecLo, hi: eVecHi, curve: eVecCurve}
];
const isMajorY = v => Math.abs(Math.round(v*1000) % 50) === 0;
const ebPlugin = {id: 'eb', beforeDatasetsDraw(ch) {
  const {ctx, chartArea: ca, scales: {x, y}} = ch;
  ctx.save();
  ctx.beginPath(); ctx.rect(ca.left, ca.top, ca.width, ca.height); ctx.clip();
  ctx.lineWidth = 1.2;
  eSeries.forEach(s => {
    ctx.strokeStyle = s.err;
    ctx.beginPath();
    eDoseLogM.forEach((d, i) => {
      if (s.lo[i] == null) return;
      const px = x.getPixelForValue(d), pl = y.getPixelForValue(s.lo[i]), ph = y.getPixelForValue(s.hi[i]);
      const cw = x.getPixelForValue(d + 0.17) - px;
      ctx.moveTo(px, pl); ctx.lineTo(px, ph);
      ctx.moveTo(px - cw, pl); ctx.lineTo(px + cw, pl);
      ctx.moveTo(px - cw, ph); ctx.lineTo(px + cw, ph);
    });
    ctx.stroke();
  });
  ctx.restore();
}, afterDraw(ch) {
  const {ctx, chartArea: ca} = ch;
  ctx.save(); ctx.strokeStyle = '#7f7f7f'; ctx.lineWidth = 1;
  ctx.strokeRect(ca.left + 0.5, ca.top + 0.5, ca.width - 1, ca.height - 1);
  ctx.restore();
}};
new Chart(document.getElementById('cE'), {
  type: 'scatter',
  data: {datasets: [
    ...eSeries.map((s, i) => ({data: eDoseLogM.map((d, j) => ({x: d, y: s.mean[j]})), backgroundColor: s.color, pointRadius: 2.4, order: i})),
    ...eSeries.map((s, i) => ({type: 'line', data: eCurveX.map((d, j) => ({x: d, y: s.curve[j]})), borderColor: s.color, borderWidth: 1.5, pointRadius: 0, cubicInterpolationMode: 'monotone', order: 10 + i}))
  ]},
  options: {
    layout: {padding: {left: 0, right: 277, top: 16, bottom: 0}},
    scales: {
      x: {type: 'linear', min: -8.34, max: -1.66, afterBuildTicks: fixTicks(eXTicks), afterFit: s => { s.height = 30; },
          ticks: {color: '#4d4d4d', font: {size: 12, lineHeight: 1}, padding: 0, maxRotation: 0, callback: v => (v % 2 === 0 ? String(v) : '')},
          grid: {display: true, drawOnChartArea: true, tickLength: 2,
                 color: c => (c.tick && c.tick.value % 2 === 0 ? '#e8e8e8' : '#f3f3f3'),
                 tickColor: c => (c.tick && c.tick.value % 2 === 0 ? '#444' : 'rgba(0,0,0,0)')},
          border: {display: false},
          title: {display: true, text: '[3M2H] (log M)', color: '#111', font: {size: 14, lineHeight: 1}, padding: {top: 0, bottom: 0}}},
      y: {type: 'linear', min: 0.093, max: 0.340, afterBuildTicks: fixTicks(eYTicks), afterFit: s => { s.width = 76; },
          ticks: {color: '#4d4d4d', font: {size: 12}, padding: 0, callback: v => (isMajorY(v) ? v.toFixed(2) : '')},
          grid: {display: true, drawOnChartArea: true, tickLength: 3,
                 color: c => (c.tick && isMajorY(c.tick.value) ? '#e8e8e8' : '#f3f3f3'),
                 tickColor: c => (c.tick && isMajorY(c.tick.value) ? '#444' : 'rgba(0,0,0,0)')},
          border: {display: false},
          title: {display: true, text: ['Normalized Luciferase Value', '(arbitrary units)'], color: '#111', font: {size: 13, lineHeight: 1.1}, padding: {top: 10, bottom: 0}}}
    }
  },
  plugins: [ebPlugin]
});
</script>
</body></html>
